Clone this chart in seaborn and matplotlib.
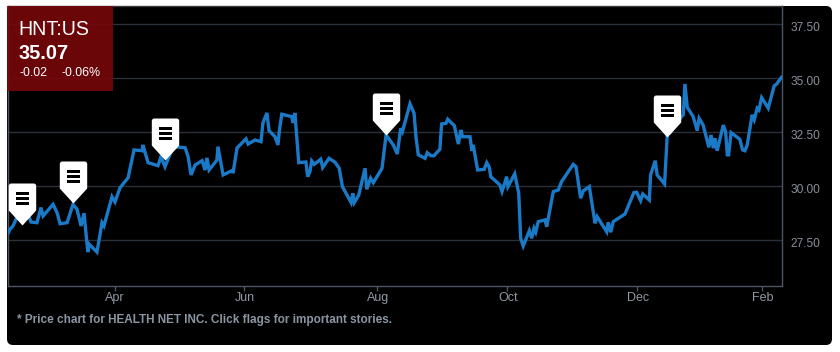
import numpy as np
import pandas as pd
import matplotlib
matplotlib.use("Agg")
import matplotlib.pyplot as plt
import seaborn as sns
from matplotlib.path import Path
from matplotlib.patches import FancyBboxPatch, Rectangle
from matplotlib.transforms import IdentityTransform, ScaledTranslation

# days counted from 1 April
days = [-50.2,-49.3,-47.9,-46.5,-43.6,-40.8,-39.4,-36.6,-34.7,-33.7,-29.0,-27.1,-25.7,-22.4,-19.6,-17.7,-15.8,-14.4,-12.6,-11.9,-8.3,-5.9,-5.0,-1.2,0.2,2.6,6.4,9.2,13.0,13.4,15.8,20.5,21.9,23.8,27.6,33.3,34.7,36.1,38.0,41.3,42.7,43.6,44.6,48.3,48.8,51.2,55.4,55.9,57.8,62.0,63.0,66.3,69.1,70.0,71.9,72.9,75.7,77.1,77.8,78.9,83.6,84.2,85.1,86.9,90.3,91.1,92.2,93.0,94.2,97.3,98.2,101.2,104.0,106.0,107.5,111.6,112.4,113.1,115.2,118.2,119.0,120.8,122.1,126.2,128.1,131.5,133.4,135.0,135.8,139.4,141.3,142.2,143.3,146.5,147.5,149.3,150.7,153.5,154.3,156.4,157.2,160.3,162.2,163.4,164.2,167.7,168.6,169.2,171.3,174.4,175.6,176.8,177.5,181.8,182.8,185.0,185.6,188.8,190.7,191.6,192.8,195.7,196.8,197.9,198.7,199.9,203.1,203.9,207.0,209.3,210.9,216.4,217.7,219.9,221.1,224.0,226.7,227.7,232.2,232.9,234.1,235.3,240.8,245.0,246.3,248.2,249.2,252.3,252.9,255.1,256.0,259.5,260.8,262.0,267.5,268.3,269.1,270.2,273.0,274.9,275.8,277.7,280.4,281.4,282.5,283.3,284.3,287.2,288.3,289.1,289.7,290.9,295.0,296.3,297.4,298.5,300.8,301.8,303.2,304.0,305.3,308.4,311.2,312.4,314.9]
prices = [27.81,28.00,28.15,28.46,28.61,28.70,28.33,28.30,29.00,28.61,29.15,28.76,28.25,28.30,29.15,28.92,28.15,28.74,26.94,27.30,26.94,28.30,28.15,29.50,29.26,29.92,30.38,31.67,31.63,31.90,31.08,30.94,31.36,30.89,31.82,31.77,31.36,30.51,30.97,31.17,30.74,31.30,30.74,31.20,31.82,30.51,30.71,30.60,31.76,32.18,31.94,32.13,32.05,32.92,33.38,32.56,32.28,31.90,32.59,33.32,33.21,32.92,33.38,31.08,31.11,30.43,30.66,31.16,31.00,31.24,30.85,31.28,31.10,30.82,29.97,29.23,29.66,29.23,29.58,30.82,29.85,30.36,30.15,30.82,32.36,31.90,31.48,32.67,32.51,33.80,33.37,32.28,31.44,31.28,31.54,31.40,31.40,31.70,32.87,32.90,33.09,32.79,31.94,32.59,32.28,32.28,31.63,31.90,30.74,30.77,31.08,30.87,30.43,30.05,29.74,30.43,29.97,30.56,29.66,27.58,27.22,27.93,27.58,28.04,27.86,28.35,28.43,28.12,29.74,29.81,30.20,31.00,30.89,29.43,29.77,29.97,28.27,28.58,27.88,28.32,27.86,28.35,28.70,29.69,29.71,29.32,29.63,29.35,30.51,31.17,30.51,30.09,32.44,32.45,33.21,33.29,34.72,33.64,33.21,32.56,33.13,32.82,31.79,32.36,31.75,32.21,31.63,32.82,32.51,31.44,31.44,32.47,32.16,31.67,31.63,31.90,33.29,33.06,33.60,33.52,34.09,33.60,34.63,34.72,35.06]
flag_days = [-43.8,-19.7,24.0,127.9,260.5]
flag_prices = [28.18,29.20,31.20,32.36,32.28]
month_days = [0,61.3,124.0,185.3,246.6,305.6]
month_labels = ["Apr","Jun","Aug","Oct","Dec","Feb"]
price_ticks = [27.5,30.0,32.5,35.0,37.5]
price_labels = ["27.50","30.00","32.50","35.00","37.50"]
ticker = "HNT:US"
last = "35.07"
chg = "-0.02"
pct = "-0.06%"
note = "* Price chart for HEALTH NET INC. Click flags for important stories."

W, H = 840, 352
sns.set_theme(style="dark")
plt.rcParams['font.family'] = ['Liberation Sans', 'DejaVu Sans']
fig = plt.figure(figsize=(W/100, H/100), dpi=100, facecolor="white")
fx = lambda x: x/W
fy = lambda y: 1 - y/H

panel = FancyBboxPatch((11, H-341), 817, 331, boxstyle="round,pad=4,rounding_size=6",
                       transform=IdentityTransform(), fc="black", ec="none", zorder=-1)
fig.add_artist(panel)

ax = fig.add_axes([fx(7.5), fy(286), (782-7.5)/W, (286-6)/H])
ax.set_facecolor("black")
df = pd.DataFrame({"day": days, "price": prices})
sns.lineplot(data=df, x="day", y="price", ax=ax, estimator=None, sort=False,
             color="#1a7ac8", linewidth=2.4, zorder=3, solid_joinstyle="miter")
ax.set_xlim(-50.5, 314.9)
ax.set_ylim(25.37, 38.33)
ax.set_xlabel(""); ax.set_ylabel("")
ax.set_xticks(month_days, month_labels)
ax.set_yticks(price_ticks, price_labels)
ax.yaxis.tick_right()
ax.grid(False)
ax.grid(True, axis="y", color="#2a2f3a", linewidth=1)
ax.tick_params(axis="x", length=3.6, width=1, color="#4f5663", labelcolor="#8f98a4",
               labelsize=9, pad=0.5, bottom=True)
ax.tick_params(axis="y", length=0, labelcolor="#8a8f98", labelsize=8.6, pad=6, right=False)
for lab in ax.get_yticklabels():
    lab.set_transform(lab.get_transform() + ScaledTranslation(0, -2.5/100, fig.dpi_scale_trans))
for lab in ax.get_xticklabels():
    lab.set_transform(lab.get_transform() + ScaledTranslation(0.7/100, 0, fig.dpi_scale_trans))
for s in ax.spines.values():
    s.set_visible(True)
    s.set_color("#4f5663")
    s.set_linewidth(1)
ax.spines["top"].set_color("#3a3a3a")

# flag markers, tip on the data point
r = 2.5
body = [(0,0),(13.7,15),(13.7,42-r),(13.7,42),(13.7-r,42),(-13.7+r,42),(-13.7,42),(-13.7,42-r),(-13.7,15),(0,0)]
codes = [Path.MOVETO,Path.LINETO,Path.LINETO,Path.CURVE3,Path.CURVE3,Path.LINETO,Path.CURVE3,Path.CURVE3,Path.LINETO,Path.CLOSEPOLY]
flag_path = Path(body, codes)
bars_v, bars_c = [(0,42)], [Path.MOVETO]
for lo, hi in [(20,22.8),(25,27.8),(30,32.8)]:
    bars_v += [(-6.5,lo),(6.5,lo),(6.5,hi),(-6.5,hi),(-6.5,lo)]
    bars_c += [Path.MOVETO,Path.LINETO,Path.LINETO,Path.LINETO,Path.CLOSEPOLY]
bars_path = Path(bars_v, bars_c)
ms = 2*42*0.72
ax.plot(flag_days, flag_prices, ls="none", marker=flag_path, ms=ms, mfc="white", mew=0, zorder=5, clip_on=False)
ax.plot(flag_days, flag_prices, ls="none", marker=bars_path, ms=ms, mfc="black", mew=0, zorder=6, clip_on=False)

# quote box
fig.add_artist(Rectangle((7, H-91), 106, 85, transform=IdentityTransform(),
                         fc="#77060a", ec="none", alpha=0.9, zorder=5))
fig.text(fx(18.5), fy(29.5), ticker, color="white", fontsize=14.1, va="center", ha="left", zorder=6)
fig.text(fx(18.5), fy(53.5), last, color="white", fontsize=14.4, fontweight="bold", va="center", ha="left", zorder=6)
fig.text(fx(19), fy(72.5), chg, color="white", fontsize=8.9, va="center", ha="left", zorder=6)
fig.text(fx(62), fy(72.5), pct, color="white", fontsize=8.9, va="center", ha="left", zorder=6)
fig.text(fx(17), fy(319.8), note, color="#8a96a3", fontsize=8.46, fontweight="bold", va="center", ha="left", zorder=6)

fig.savefig("out.png", dpi=100, facecolor="white")
